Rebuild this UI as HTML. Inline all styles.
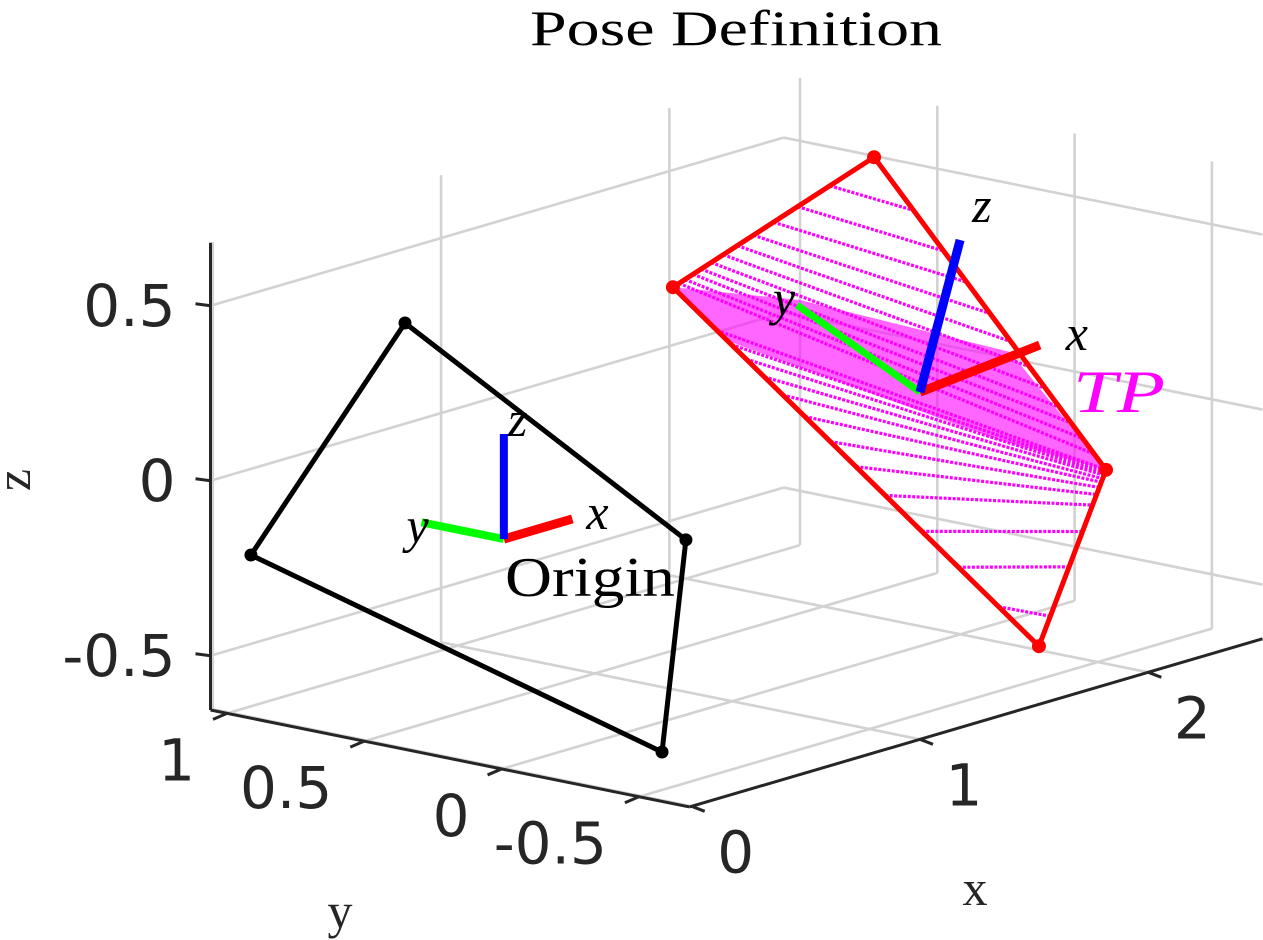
<!DOCTYPE html>
<html><head><meta charset="utf-8"><title>Pose Definition</title>
<style>
html,body{margin:0;padding:0;background:#fff;}
svg{display:block;}
</style></head>
<body>
<svg id="chart" width="1263" height="940" viewBox="0 0 1263 940" xmlns="http://www.w3.org/2000/svg">
<g id="grid"></g>
<g id="axes"></g>
<g id="marks"></g>
<g id="labels"></g>
<text x="736" y="45" text-anchor="middle" font-family="'Liberation Serif', serif" font-size="50" textLength="412" lengthAdjust="spacingAndGlyphs" fill="#000">Pose Definition</text>
</svg>
<script>
// ---- data ----
const xTicks = [0, 1, 2];
const yTicks = [1, 0.5, 0, -0.5];
const zTicks = [0.5, 0, -0.5];
const xTickLabels = ['0', '1', '2'];
const yTickLabels = ['1', '0.5', '0', '-0.5'];
const zTickLabels = ['0.5', '0', '-0.5'];
const xLim = [-0.01, 2.5];
const yLim = [-0.684, 1.06];
const zLim = [-0.655, 0.68];
// origin camera frame (black) corners [x,y,z]
const originFrame = [[0,0.360,0.560],[0,-0.663,0.103],[0,-0.576,-0.517],[0,0.921,-0.192]];
const originAxisLen = 0.3;
// target pose (red) corners
const tpFrame = [[2.3,0.564,0.561],[2.0,-0.530,-0.101],[1.8,-0.452,-0.579],[1.2,0.382,0.429]];
const tpCenter = [1.8,-0.019,0.078];
const tpXTip = [1.8,-0.455,0.282];
const tpYTip = [1.8,0.429,0.256];
const tpZTip = [1.8,-0.165,0.536];
// dense sampled region of TP
const tpDense = [[1.2,0.382,0.429],[1.8,0.418,0.272],[1.8,-0.347,0.245],[2.0,-0.530,-0.101],[1.8,-0.310,-0.013],[1.8,0.678,0.113]];
// hatch sample rows: params along edges
const hatchUpperA = [0.03,0.06,0.1,0.14,0.19,0.25,0.32,0.4,0.5,0.62,0.78];
const hatchUpperB = [0.95,0.9,0.85,0.8,0.74,0.67,0.59,0.5,0.4,0.3,0.17];
const hatchLowerA = [0.12,0.16,0.2,0.25,0.3,0.36,0.43,0.5,0.58,0.68,0.78,0.89];
const hatchLowerB = [0.0,0.01,0.02,0.03,0.05,0.07,0.1,0.14,0.2,0.35,0.55,0.83];

// ---- projection ----
const X0 = 210.5, Y0 = 710, KX = 228.3, KY = 274.6, KZ = 350, SX = 67, SY = 55.6;
function P(p){
  const x=p[0], y=p[1], z=p[2];
  return [X0 + KX*(x-xLim[0]) + KY*(yLim[1]-y),
          Y0 - KZ*(z-zLim[0]) - SX*(x-xLim[0]) + SY*(yLim[1]-y)];
}
function lerp(a,b,t){return [a[0]+(b[0]-a[0])*t,a[1]+(b[1]-a[1])*t,a[2]+(b[2]-a[2])*t];}
const NS='http://www.w3.org/2000/svg';
function el(tag, attrs, parent){
  const e=document.createElementNS(NS,tag);
  for(const k in attrs) e.setAttribute(k, attrs[k]);
  parent.appendChild(e); return e;
}
function line3(a,b,stroke,w,parent,name,extra){
  const p=P(a), q=P(b);
  const e=el('line',{x1:p[0],y1:p[1],x2:q[0],y2:q[1],stroke:stroke,'stroke-width':w,'stroke-linecap':'butt'},parent);
  if(extra) for(const k in extra) e.setAttribute(k,extra[k]);
  
  
  return e;
}
const grid=document.getElementById('grid'), axes=document.getElementById('axes'), marks=document.getElementById('marks'), labels=document.getElementById('labels');
const GC='#d2d2d2';
const GW=2.6;
// floor grid
xTicks.forEach(x=>{ line3([x,yLim[0],zLim[0]],[x,yLim[1],zLim[0]],GC,GW,grid,'floor-grid-x'); });
yTicks.forEach(y=>{ line3([xLim[0],y,zLim[0]],[xLim[1],y,zLim[0]],GC,GW,grid,'floor-grid-y'); });
// back wall y=ymax
xTicks.forEach(x=>{ line3([x,yLim[1],zLim[0]],[x,yLim[1],zLim[1]],GC,GW,grid,'wall-grid-x'); });
zTicks.forEach(z=>{ line3([xLim[0],yLim[1],z],[xLim[1],yLim[1],z],GC,GW,grid,'wall-grid-z'); });
// back wall x=xmax
yTicks.forEach(y=>{ line3([xLim[1],y,zLim[0]],[xLim[1],y,zLim[1]],GC,GW,grid,'side-grid-y'); });
zTicks.forEach(z=>{ line3([xLim[1],yLim[0],z],[xLim[1],yLim[1],z],GC,GW,grid,'side-grid-z'); });

// axes lines
const AC='#262626';
line3([xLim[0],yLim[1],zLim[0]],[xLim[0],yLim[1],zLim[1]],AC,3,axes,'z-axis-line');
line3([xLim[0],yLim[0],zLim[0]],[xLim[0],yLim[1],zLim[0]],AC,3,axes,'y-axis-line');
line3([xLim[0],yLim[0],zLim[0]],[xLim[1],yLim[0],zLim[0]],AC,3,axes,'x-axis-line');
const FONT="'DejaVu Sans', sans-serif";
zTicks.forEach((z,i)=>{
  const p=P([xLim[0],yLim[1],z]);
  const t=el('line',{x1:p[0]-15,y1:p[1]-2,x2:p[0],y2:p[1],stroke:AC,'stroke-width':3},axes);
  
  
  const tx=el('text',{x:p[0]-35,y:p[1]+20,'text-anchor':'end','font-family':FONT,'font-size':58,fill:AC},labels);
  tx.textContent=zTickLabels[i];
  
  
});
yTicks.forEach((y,i)=>{
  const p=P([xLim[0],y,zLim[0]]);
  const t=el('line',{x1:p[0],y1:p[1],x2:p[0]-14,y2:p[1]+6,stroke:AC,'stroke-width':3},axes);
  
  
  const tx=el('text',{x:p[0]-32,y:p[1]+67,'text-anchor':'end','font-family':FONT,'font-size':58,fill:AC},labels);
  tx.textContent=yTickLabels[i];
  
  
});
xTicks.forEach((x,i)=>{
  const p=P([x,yLim[0],zLim[0]]);
  const t=el('line',{x1:p[0],y1:p[1],x2:p[0]+13,y2:p[1]+5,stroke:AC,'stroke-width':3},axes);
  
  
  const tx=el('text',{x:p[0]+44,y:p[1]+66,'text-anchor':'middle','font-family':FONT,'font-size':58,fill:AC},labels);
  tx.textContent=xTickLabels[i];
  
  
});

function poly3(pts,attrs,parent,name){
  const s=pts.map(p=>P(p).join(',')).join(' ');
  const e=el('polygon',Object.assign({points:s},attrs),parent);
  
  
  return e;
}
poly3(originFrame,{fill:'none',stroke:'#000','stroke-width':5,'stroke-linejoin':'round'},marks,'origin-frame-outline');

// TP dense region and hatch
poly3(tpDense,{fill:'#ff00ff','fill-opacity':0.6,stroke:'none'},marks,'tp-dense-samples');
const R1=tpFrame[0],R2=tpFrame[1],R3=tpFrame[2],R4=tpFrame[3];
hatchUpperA.forEach((a,i)=>{
  line3(lerp(R4,R1,a),lerp(R1,R2,hatchUpperB[i]),'#ff00ff',3.2,marks,'tp-hatch-line',{'stroke-dasharray':'3 1.5'});
});
hatchLowerA.forEach((a,i)=>{
  line3(lerp(R4,R3,a),lerp(R2,R3,hatchLowerB[i]),'#ff00ff',3.2,marks,'tp-hatch-line',{'stroke-dasharray':'3 1.5'});
});
poly3(tpFrame,{fill:'none',stroke:'#ff0000','stroke-width':5,'stroke-linejoin':'round'},marks,'tp-frame-outline');

// origin axes
const O=[0,0,0];
line3(O,[0,originAxisLen,0],'#00ff00',8,marks,'origin-y-axis');
line3(O,[originAxisLen,0,0],'#ff0000',9,marks,'origin-x-axis');
line3(O,[0,0,originAxisLen],'#0000ff',8,marks,'origin-z-axis');
// tp axes
line3(tpCenter,tpYTip,'#00ff00',7,marks,'tp-y-axis');
line3(tpCenter,tpXTip,'#ff0000',9,marks,'tp-x-axis');
line3(tpCenter,tpZTip,'#0000ff',9,marks,'tp-z-axis');

// markers
originFrame.forEach(p=>{
  const q=P(p);
  const c=el('circle',{cx:q[0],cy:q[1],r:6.5,fill:'#000'},marks);
  
  
});
tpFrame.forEach(p=>{
  const q=P(p);
  const c=el('circle',{cx:q[0],cy:q[1],r:7,fill:'#ff0000'},marks);
  
  
});

// text labels
function txt(x,y,s,attrs,name){
  const t=el('text',Object.assign({x:x,y:y},attrs),labels);
  t.textContent=s;
  
  
  return t;
}
const SERIF="'Liberation Serif', serif";
const it={'font-family':SERIF,'font-size':50,'font-style':'italic',fill:'#000'};
const oz=P([0,0,originAxisLen]), ox=P([originAxisLen,0,0]), oy=P([0,originAxisLen,0]);
txt(oz[0]+4,oz[1]+2,'z',it,'origin-z-label');
txt(ox[0]+14,ox[1]+10,'x',it,'origin-x-label');
txt(oy[0]-15,oy[1]+20,'y',it,'origin-y-label');
const tz=P(tpZTip), tx=P(tpXTip), ty=P(tpYTip);
txt(tz[0]+12,tz[1]-18,'z',it,'tp-z-label');
txt(tx[0]+26,tx[1]+5,'x',it,'tp-x-label');
txt(ty[0]-24,ty[1]+10,'y',it,'tp-y-label');
txt(1073,412,'TP',{'font-family':SERIF,'font-size':60,'font-style':'italic',fill:'#ff00ff',textLength:92,lengthAdjust:'spacingAndGlyphs'},'tp-label');
txt(505,596,'Origin',{'font-family':SERIF,'font-size':56,fill:'#000',textLength:170,lengthAdjust:'spacingAndGlyphs'},'origin-label');
txt(340,928,'y',{'font-family':SERIF,'font-size':50,fill:AC,'text-anchor':'middle'},'y-axis-title');
txt(975,905,'x',{'font-family':SERIF,'font-size':50,fill:AC,'text-anchor':'middle'},'x-axis-title');
txt(0,0,'z',{'font-family':SERIF,'font-size':50,fill:AC,'text-anchor':'middle',transform:'translate(30,480) rotate(-90)'},'z-axis-title');
</script>
</body></html>
